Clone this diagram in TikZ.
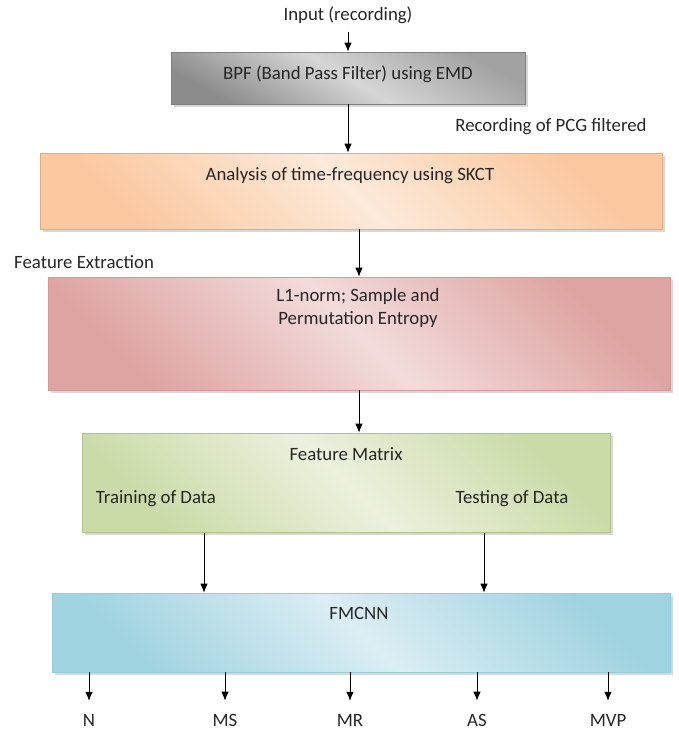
\documentclass[tikz,border=0pt]{standalone}
\usepackage{fontspec}
\setmainfont{Carlito}
\usetikzlibrary{positioning,arrows.meta,shadows}

\definecolor{grayedge}{HTML}{8C8C8C}
\definecolor{graylight}{HTML}{D6D6D6}
\definecolor{oraedge}{HTML}{FAC090}
\definecolor{oralight}{HTML}{FDEADA}
\definecolor{rededge}{HTML}{D99694}
\definecolor{redlight}{HTML}{F2DCDB}
\definecolor{grnedge}{HTML}{C3D69B}
\definecolor{grnlight}{HTML}{EBF1DE}
\definecolor{bluedge}{HTML}{93CDDD}
\definecolor{blulight}{HTML}{DBEEF3}

\begin{document}
\begin{tikzpicture}[
        x=1pt, y=-1pt,
        font=\fontsize{18.8}{23}\selectfont,
        txt/.style={text=black!85, inner sep=0pt, align=center},
        stage/.style={rectangle, inner sep=0pt, line width=0.7pt,
            drop shadow={shadow xshift=2.5pt, shadow yshift=-3pt, fill=black!30}},
        graybox/.style={stage, draw=black!50, top color=grayedge!70!graylight, bottom color=grayedge,
            middle color=graylight, shading angle=-30},
        orabox/.style={stage, draw=oraedge!90!black, top color=oraedge!80!oralight, bottom color=oraedge!80!oralight,
            middle color=oralight, shading angle=-45},
        redbox/.style={stage, draw=rededge, top color=rededge!80!redlight, bottom color=rededge!80!redlight,
            middle color=redlight, shading angle=-45},
        grnbox/.style={stage, draw=grnedge!90!black, top color=grnedge!80!grnlight, bottom color=grnedge!80!grnlight,
            middle color=grnlight, shading angle=-45},
        blubox/.style={stage, draw=bluedge, top color=bluedge!80!blulight, bottom color=bluedge!80!blulight,
            middle color=blulight, shading angle=-45},
        arr/.style={-{Latex[length=9pt,width=7.5pt]}, line width=0.8pt}
    ]
        \useasboundingbox (0,0) rectangle (679,732);

        % stages
        \node[graybox, minimum width=354pt, minimum height=52pt] (bpf) at (348,78) {};
        \node[orabox, minimum width=622pt, minimum height=76pt] (ana) at (351,191) {};
        \node[redbox, minimum width=622pt, minimum height=113pt] (feat) at (359,333.5) {};
        \node[grnbox, minimum width=528pt, minimum height=99pt] (mat) at (346,482.5) {};
        \node[blubox, minimum width=618pt, minimum height=79pt] (fm) at (361,632.5) {};

        % texts
        \node[txt] (in) at (348,15) {Input (recording)};
        \node[txt] (bpft) at (348,74) {BPF (Band Pass Filter) using EMD};
        \node[txt] (pcg) at (551,127) {Recording of PCG filtered};
        \node[txt] (anat) at (350,176) {Analysis of time-frequency using SKCT};
        \node[txt, anchor=west] (fe) at (14,262) {Feature Extraction};
        \node[txt] (featt) at (358,308) {L1-norm; Sample and\\Permutation Entropy};
        \node[txt] (matt) at (346,454) {Feature Matrix};
        \node[txt] (trnt) at (156,499) {Training of Data};
        \node[txt] (tstt) at (512,499) {Testing of Data};
        \node[txt] (fmt) at (359,613) {FMCNN};

        % arrows
        \draw[arr, shorten <=8pt] (in) -- (in |- bpf.north);
        \draw[arr] (bpf.south) -- (bpf.south |- ana.north);
        \draw[arr] (ana.south -| feat.north) -- (feat.north);
        \draw[arr] (feat.south) -- (feat.south |- mat.north);
        \coordinate (trn) at (204,533);
        \coordinate (tst) at (484,533);
        \draw[arr] (trn) -- (trn |- fm.north);
        \draw[arr] (tst) -- (tst |- fm.north);

        % outputs
        \foreach \o/\x/\t in {on/89/N, oms/225/MS, omr/350/MR, oas/477/AS, omvp/608/MVP} {
            \node[txt] (\o) at (\x,720) {\t};
            \draw[arr, shorten >=13pt] (fm.south -| \o) -- (\o.north);
        }
    \end{tikzpicture}
\end{document}
